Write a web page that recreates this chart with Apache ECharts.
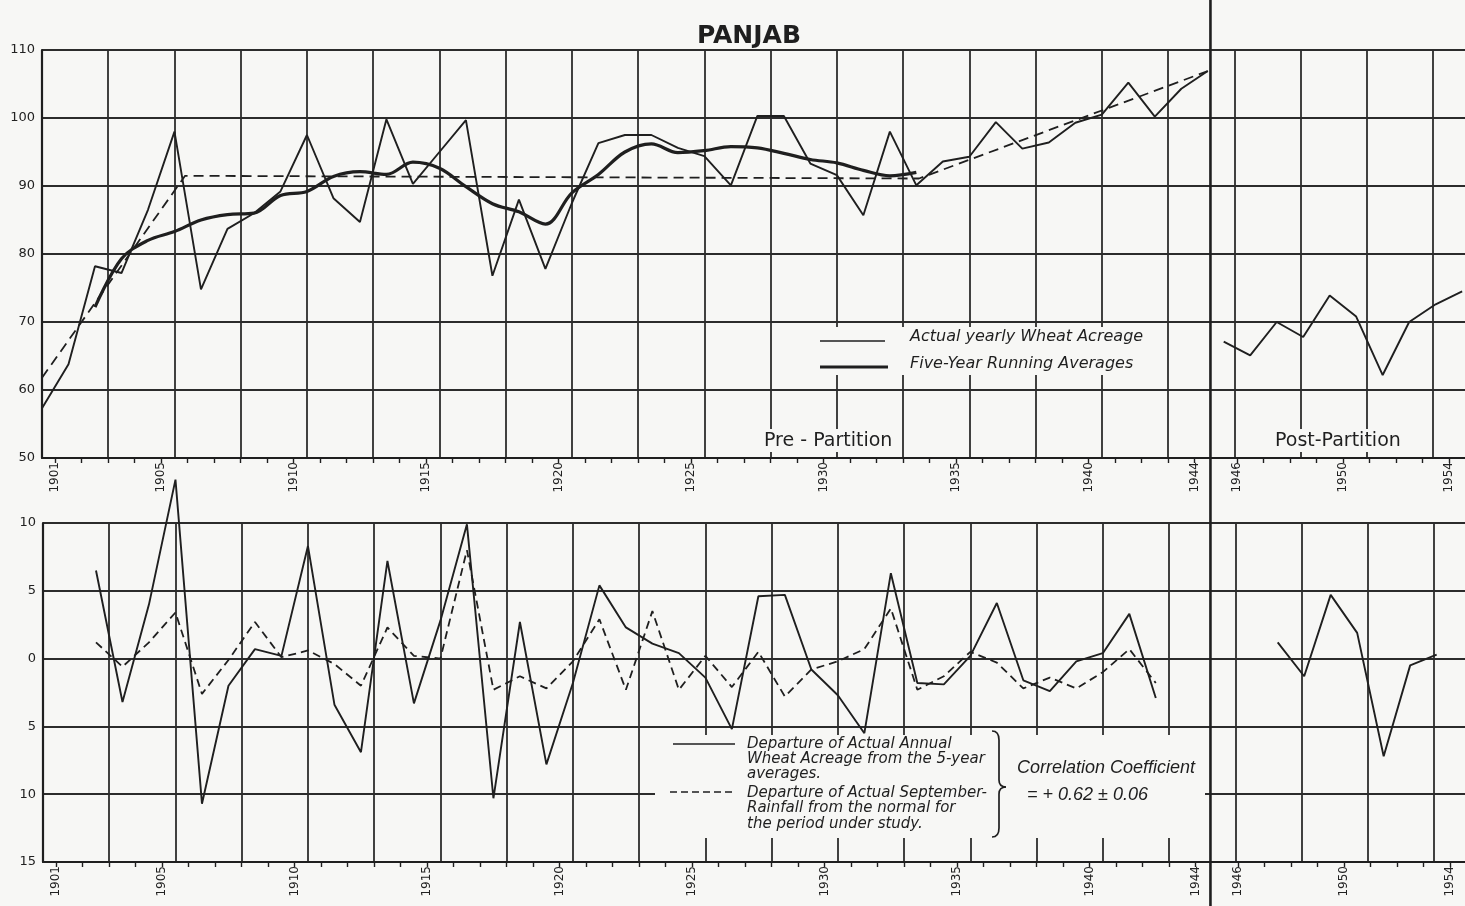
<!DOCTYPE html>
<html><head><meta charset="utf-8">
<script src="https://cdn.jsdelivr.net/npm/echarts@6/dist/echarts.min.js"></script>
<style>html,body{margin:0;padding:0;background:#f7f7f5}#c{width:1465px;height:906px}</style>
</head><body><div id="c"></div>
<script>
// ---------- DATA ----------
const preYears = [1900,1901,1902,1903,1904,1905,1906,1907,1908,1909,1910,1911,1912,1913,1914,1915,1916,1917,1918,1919,1920,1921,1922,1923,1924,1925,1926,1927,1928,1929,1930,1931,1932,1933,1934,1935,1936,1937,1938,1939,1940,1941,1942,1943,1944];
const actualAcreage = [57.3,63.8,78.2,77.2,86.5,98.0,74.8,83.7,86.0,89.2,97.5,88.2,84.7,99.8,90.3,95.0,99.7,76.8,88.0,77.8,87.5,96.3,97.5,97.5,95.6,94.4,90.1,100.3,100.3,93.3,91.6,85.7,98.0,90.1,93.6,94.3,99.4,95.5,96.4,99.3,100.5,105.2,100.2,104.3,106.9];
const avgYears = [1902,1903,1904,1905,1906,1907,1908,1909,1910,1911,1912,1913,1914,1915,1916,1917,1918,1919,1920,1921,1922,1923,1924,1925,1926,1927,1928,1929,1930,1931,1932,1933];
const runningAverage = [72.2,79.3,82.0,83.3,85.0,85.8,86.0,88.6,89.2,91.4,92.1,91.7,93.5,92.6,89.9,87.4,86.2,84.4,89.0,91.7,95.0,96.2,94.9,95.2,95.8,95.6,94.8,93.9,93.4,92.3,91.5,92.0];
const trendYears = [1900,1905.4,1933.1,1944];
const trendValues = [61.8,91.5,91.1,106.9];
const postYears = [1945,1946,1947,1948,1949,1950,1951,1952,1953,1954];
const postAcreage = [67.1,65.1,70.0,67.8,73.9,70.8,62.2,70.0,72.6,74.5];
const depYears = [1902,1903,1904,1905,1906,1907,1908,1909,1910,1911,1912,1913,1914,1915,1916,1917,1918,1919,1920,1921,1922,1923,1924,1925,1926,1927,1928,1929,1930,1931,1932,1933,1934,1935,1936,1937,1938,1939,1940,1941,1942];
const wheatDeparture = [6.5,-3.2,4.0,13.2,-10.7,-2.0,0.7,0.2,8.3,-3.4,-6.9,7.2,-3.3,2.8,9.9,-10.3,2.7,-7.8,-1.8,5.4,2.3,1.1,0.4,-1.4,-5.2,4.6,4.7,-0.8,-2.7,-5.5,6.3,-1.8,-1.9,0.2,4.1,-1.6,-2.4,-0.2,0.4,3.3,-2.9];
const rainDeparture = [1.2,-0.6,1.2,3.4,-2.6,-0.1,2.7,0.1,0.6,-0.4,-2.0,2.3,0.2,0.0,8.0,-2.3,-1.3,-2.2,-0.2,2.9,-2.3,3.5,-2.3,0.2,-2.1,0.5,-2.8,-0.8,-0.2,0.7,3.7,-2.3,-1.3,0.5,-0.3,-2.2,-1.4,-2.2,-1.0,0.7,-1.8];
const postDepYears = [1947,1948,1949,1950,1951,1952,1953];
const postWheatDeparture = [1.2,-1.3,4.7,1.9,-7.2,-0.5,0.3];
const preTickYears = preYears.slice(1);
const postTickYears = [1946,1947,1948,1949,1950,1951,1952,1953,1954];
const labelYears = [1901,1905,1910,1915,1920,1925,1930,1935,1940,1944,1946,1950,1954];

// ---------- AXIS MAPPING (pre / post partition share one drawn scale) ----------
function pos(y){ return y < 1944.5 ? y - 1900 : y - 1900.4; }
function tickPos(y){ return y < 1944.5 ? y - 1900.5 : y - 1900.9; }
const tickPositions = preTickYears.concat(postTickYears).map(tickPos);
const labelPositions = labelYears.map(tickPos);
function yearLabel(v){
  let best = '', d = 1e9;
  labelYears.forEach(y => { const dd = Math.abs(tickPos(y) - v); if (dd < d) { d = dd; best = String(y); } });
  return d < 0.05 ? best : '';
}
const pairs = (xs, vs) => xs.map((x, i) => [pos(x), vs[i]]);

const INK = '#1f1f1f';
const GRIDC = '#2c2c2c';
const BG = '#f7f7f5';
const FONT = 'DejaVu Sans';
const XMAX = 54.5;

function makeX(gi){
  return { gridIndex: gi, type: 'value', min: 0, max: XMAX, position: 'bottom',
    axisLine: { show: true, onZero: false, lineStyle: { color: INK, width: 2.2 } },
    axisTick: { show: true, customValues: tickPositions, length: 5, lineStyle: { color: INK, width: 1.4 } },
    axisLabel: { show: true, customValues: labelPositions, rotate: 90, margin: 4, fontSize: 12,
      fontFamily: FONT, color: '#222', formatter: yearLabel },
    splitLine: { show: false } };
}
function makeGridX(gi){
  return { gridIndex: gi, type: 'value', min: 0, max: XMAX, interval: 2.5, position: 'top',
    axisLine: { show: false }, axisTick: { show: false }, axisLabel: { show: false },
    splitLine: { show: true, lineStyle: { color: GRIDC, width: 1.8 } } };
}
function makeY(gi, min, max, interval, fmt){
  return { gridIndex: gi, type: 'value', min, max, interval,
    axisLine: { show: true, lineStyle: { color: INK, width: 2.2 } },
    axisTick: { show: false },
    axisLabel: { margin: 7, fontSize: 13, fontFamily: FONT, color: '#222', formatter: fmt },
    splitLine: { show: true, lineStyle: { color: GRIDC, width: 1.8 } } };
}
const thin = { color: INK, width: 1.9 };

const chart = echarts.init(document.getElementById('c'));
chart.setOption({
  animation: false,
  backgroundColor: BG,
  grid: [
    { left: 42, top: 50, width: 1444, height: 408, containLabel: false, outerBoundsMode: 'none' },
    { left: 43, top: 523, width: 1444, height: 339, containLabel: false, outerBoundsMode: 'none' }
  ],
  xAxis: [makeX(0), makeX(1), makeGridX(0), makeGridX(1)],
  yAxis: [makeY(0, 50, 110, 10), makeY(1, -15, 10, 5, v => String(Math.abs(v)))],
  series: [
    { name: 'Actual yearly Wheat Acreage', type: 'line', xAxisIndex: 0, yAxisIndex: 0, symbol: 'none',
      data: pairs(preYears, actualAcreage), lineStyle: thin, z: 5 },
    { name: 'Five-Year Running Averages', type: 'line', xAxisIndex: 0, yAxisIndex: 0, symbol: 'none', smooth: 0.35,
      data: pairs(avgYears, runningAverage), lineStyle: { color: INK, width: 3.2 }, z: 5 },
    { name: 'Trend', type: 'line', xAxisIndex: 0, yAxisIndex: 0, symbol: 'none',
      data: pairs(trendYears, trendValues), lineStyle: { color: INK, width: 1.8, type: [10, 6] }, z: 5 },
    { name: 'Post-partition acreage', type: 'line', xAxisIndex: 0, yAxisIndex: 0, symbol: 'none',
      data: pairs(postYears, postAcreage), lineStyle: thin, z: 5 },
    { name: 'Wheat departure', type: 'line', xAxisIndex: 1, yAxisIndex: 1, symbol: 'none', clip: false,
      data: pairs(depYears, wheatDeparture), lineStyle: thin, z: 5 },
    { name: 'Rainfall departure', type: 'line', xAxisIndex: 1, yAxisIndex: 1, symbol: 'none',
      data: pairs(depYears, rainDeparture), lineStyle: { color: INK, width: 1.8, type: [8, 5] }, z: 5 },
    { name: 'Post wheat departure', type: 'line', xAxisIndex: 1, yAxisIndex: 1, symbol: 'none',
      data: pairs(postDepYears, postWheatDeparture), lineStyle: thin, z: 5 }
  ]
});

const partX = chart.convertToPixel({ xAxisIndex: 0 }, pos(1944) + 0.1);
function txt(x, y, text, font, align){
  return { type: 'text', z: 102, style: { x, y, text, font, fill: INK, align: align || 'left', textAlign: align || 'left',
    verticalAlign: 'middle', textVerticalAlign: 'middle' } };
}
function seg(x1, y1, x2, y2, w, dash){
  return { type: 'line', z: 102, shape: { x1, y1, x2, y2 }, style: { stroke: INK, lineWidth: w, lineDash: dash || null } };
}
function box(x, y, w, h){
  return { type: 'rect', z: 100, shape: { x, y, width: w, height: h }, style: { fill: BG } };
}
function curve(x1, y1, cx, cy, x2, y2){
  return { type: 'bezierCurve', z: 102, shape: { x1, y1, x2, y2, cpx1: cx, cpy1: cy }, style: { stroke: INK, lineWidth: 1.7, fill: null } };
}
const it = 'italic 16px "DejaVu Sans"';
const ib = 'italic 15px "DejaVu Sans"';
chart.setOption({
  graphic: [
    box(805, 327, 355, 48),
    box(655, 735, 550, 103),
    box(758, 429, 140, 23),
    box(1268, 429, 145, 23),
    seg(partX, 0, partX, 906, 2.6),
    txt(749, 36, 'PANJAB', 'bold 25px "DejaVu Sans"', 'center'),
    txt(764, 441, 'Pre - Partition', '19px "DejaVu Sans"'),
    txt(1275, 441, 'Post-Partition', '19px "DejaVu Sans"'),
    seg(820, 341, 885, 341, 1.7),
    seg(820, 367, 888, 367, 3.2),
    txt(910, 337, 'Actual yearly Wheat Acreage', it),
    txt(910, 364, 'Five-Year Running Averages', it),
    seg(673, 744, 735, 744, 1.7),
    seg(670, 792, 735, 792, 1.7, [7, 4]),
    txt(747, 744, 'Departure of Actual Annual', ib),
    txt(747, 759, 'Wheat Acreage from the 5-year', ib),
    txt(747, 774, 'averages.', ib),
    txt(747, 793, 'Departure of Actual September-', ib),
    txt(747, 808, 'Rainfall from the normal for', ib),
    txt(747, 824, 'the period under study.', ib),
    curve(992, 731, 999, 731, 999, 740),
    seg(999, 740, 999, 780, 1.7),
    curve(999, 780, 999, 787, 1006, 787),
    curve(1006, 787, 999, 787, 999, 794),
    seg(999, 794, 999, 828, 1.7),
    curve(999, 828, 999, 837, 992, 837),
    txt(1017, 768, 'Correlation Coefficient', 'italic 18px "Liberation Sans"'),
    txt(1027, 795, '= + 0.62 \u00b1 0.06', 'italic 18px "Liberation Sans"')
  ]
});
</script>
</body></html>
